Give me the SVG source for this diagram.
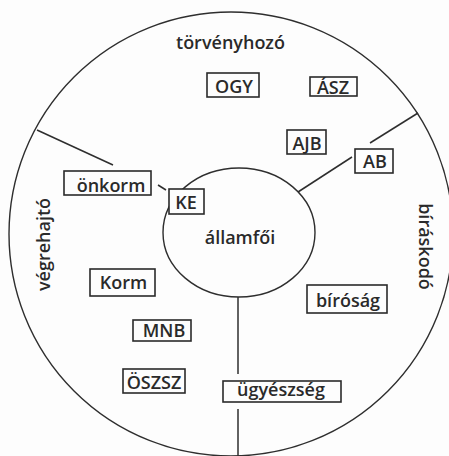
<svg xmlns="http://www.w3.org/2000/svg" width="449" height="456" viewBox="0 0 449 456">
<style>
.ring{fill:none;stroke:#2e2e2e;stroke-width:1.4}
.box{fill:#fdfdfd;stroke:#2a2a2a;stroke-width:1.6}
.conn{fill:none;stroke:#2e2e2e;stroke-width:1.5}
text{font-family:"Open Sans","Liberation Sans",sans-serif;font-size:18px;font-weight:600;fill:#2a2a2a;text-anchor:middle}
</style>
<rect width="449" height="456" fill="#fdfdfd"/>
<g id="outer-ring"><circle class="ring" cx="231" cy="234" r="222"/></g>
<g id="inner-ring"><ellipse class="ring" cx="239" cy="232.5" rx="76" ry="64.5"/></g>
<g id="connectors">
<path class="conn" d="M37,130 L113,165"/>
<path class="conn" d="M158,185 L166,190"/>
<path class="conn" d="M418,113 L370,143"/>
<path class="conn" d="M352,157 L298,192"/>
<path class="conn" d="M238,297 L238,374"/>
<path class="conn" d="M238,409 L238,456"/>
</g>
<g id="label-torvenyhozo"><text x="230.5" y="49">törvényhozó</text></g>
<g id="label-vegrehajto"><text transform="translate(50,244.5) rotate(-90)">végrehajtó</text></g>
<g id="label-biraskodo"><text transform="translate(419,246.5) rotate(90)">bíráskodó</text></g>
<g id="allamfoi"><text x="240" y="244">államfői</text></g>
<g id="OGY"><rect class="box" x="207" y="73" width="52" height="24"/><text x="234" y="93">OGY</text></g>
<g id="ASZ"><rect class="box" x="310" y="77" width="47" height="19"/><text x="333" y="94">ÁSZ</text></g>
<g id="AJB"><rect class="box" x="287" y="130" width="39" height="24"/><text x="307" y="150">AJB</text></g>
<g id="AB"><rect class="box" x="355" y="149" width="38" height="24"/><text x="375" y="168">AB</text></g>
<g id="onkorm"><rect class="box" x="64" y="171" width="87" height="24"/><text x="111" y="192">önkorm</text></g>
<g id="KE"><rect class="box" x="169" y="189" width="35" height="25"/><text x="186" y="209">KE</text></g>
<g id="Korm"><rect class="box" x="90" y="269" width="65" height="27"/><text x="123.5" y="289">Korm</text></g>
<g id="MNB"><rect class="box" x="133" y="320" width="58" height="21"/><text x="164" y="337">MNB</text></g>
<g id="OSZSZ"><rect class="box" x="123" y="369" width="62" height="24"/><text x="154" y="389">ÖSZSZ</text></g>
<g id="ugyeszseg"><rect class="box" x="223" y="381" width="118" height="21"/><text x="281" y="396">ügyészség</text></g>
<g id="birosag"><rect class="box" x="307" y="285" width="80" height="28"/><text x="348" y="307">bíróság</text></g>
</svg>
